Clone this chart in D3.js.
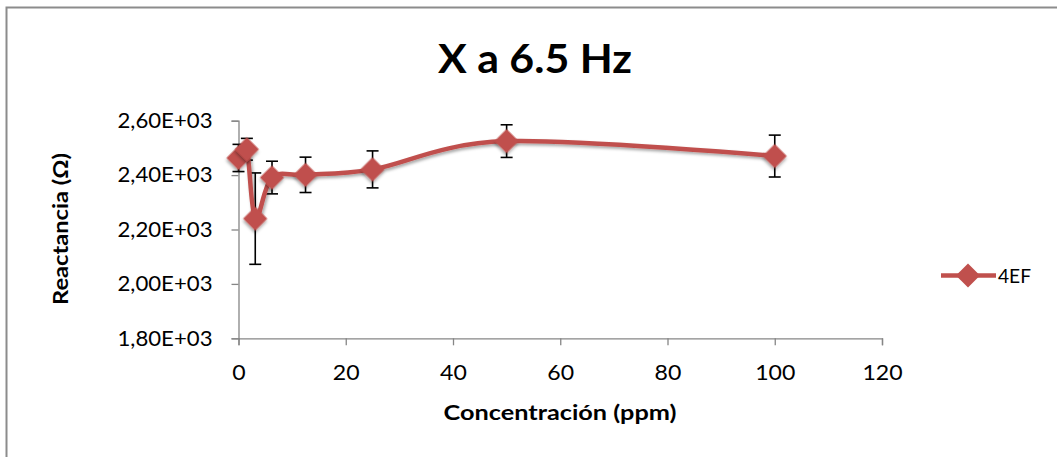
<!DOCTYPE html>
<html><head><meta charset="utf-8">
<script src="https://cdn.jsdelivr.net/npm/d3@7"></script>
<style>body{margin:0;background:#fff;} svg{display:block;}</style>
</head><body>
<svg id="c" width="1057" height="457"></svg>
<script>
const concentration = [0, 1.5625, 3.125, 6.25, 12.5, 25, 50, 100];
const reactance = [2463, 2495, 2240, 2391, 2401, 2421, 2525, 2470];
const errorBar = [50, 40, 168, 60, 65, 68, 60, 77];
const xTicks = [0, 20, 40, 60, 80, 100, 120];
const yTicks = [1800, 2000, 2200, 2400, 2600];
const seriesName = "4EF";

const svg = d3.select("#c");
const font = "Lato, 'Open Sans', sans-serif";
const red = "#C0504D";

// widen glyphs horizontally (reference text is horizontally stretched)
function stretchTo(sel, w) {
  sel.each(function() {
    d3.select(this).attr("textLength", w).attr("lengthAdjust", "spacingAndGlyphs");
  });
}
function stretch(sel, k) {
  sel.each(function() {
    const w = this.getComputedTextLength();
    d3.select(this).attr("textLength", w * k).attr("lengthAdjust", "spacingAndGlyphs");
  });
}

const defs = svg.append("defs");
const f = defs.append("filter").attr("id","sh").attr("x","-50%").attr("y","-50%").attr("width","200%").attr("height","200%");
f.append("feDropShadow").attr("dx",1.5).attr("dy",2).attr("stdDeviation",1.5).attr("flood-color","#000").attr("flood-opacity",0.35);

// outer frame
svg.append("rect").attr("x",6.5).attr("y",7.5).attr("width",1100).attr("height",500)
  .attr("fill","none").attr("stroke","#8c8c8c").attr("stroke-width",2);

const x = d3.scaleLinear().domain([0,120]).range([238.5, 882]);
const y = d3.scaleLinear().domain([1800,2600]).range([338.3, 120.7]);

// axes
const xa = svg.append("g").attr("transform",`translate(0,${y(1800)})`)
  .call(d3.axisBottom(x).tickValues(xTicks).tickSize(7).tickPadding(20).tickFormat(d3.format("d")));
const ya = svg.append("g").attr("transform",`translate(${x(0)},0)`)
  .call(d3.axisLeft(y).tickValues(yTicks).tickSize(7).tickPadding(19)
    .tickFormat(d => (d/1000).toFixed(2).replace(".", ",") + "E+03"));
[xa, ya].forEach(g => {
  g.select(".domain").attr("stroke","#868686").attr("stroke-width",1.3);
  g.selectAll(".tick line").attr("stroke","#868686").attr("stroke-width",1.3);
  g.selectAll(".tick text").attr("fill","#000").style("font-family",font).style("font-size","21px");
});
stretch(xa.selectAll(".tick text"), 1.1);
stretchTo(ya.selectAll(".tick text"), 95);

// error bars
const eb = svg.append("g").attr("stroke","#000").attr("stroke-width",1.6);
concentration.forEach((c,i) => {
  const cx = x(c), t = y(reactance[i]+errorBar[i]), b = y(reactance[i]-errorBar[i]);
  eb.append("line").attr("x1",cx).attr("x2",cx).attr("y1",t).attr("y2",b);
  eb.append("line").attr("x1",cx-6).attr("x2",cx+6).attr("y1",t).attr("y2",t);
  eb.append("line").attr("x1",cx-6).attr("x2",cx+6).attr("y1",b).attr("y2",b);
});

// line
const pts = concentration.map((c,i)=>[c, reactance[i]]);
const line = d3.line().x(d=>x(d[0])).y(d=>y(d[1])).curve(d3.curveCardinal.tension(0));
svg.append("path").attr("d",line(pts)).attr("fill","none").attr("stroke",red)
  .attr("stroke-width",4.5).attr("filter","url(#sh)");

// markers
const diamond = d3.symbol().type(d3.symbolSquare).size(290);
svg.append("g").selectAll("path").data(pts).join("path")
  .attr("d",diamond)
  .attr("transform",d=>`translate(${x(d[0])},${y(d[1])}) rotate(45)`)
  .attr("fill",red).attr("filter","url(#sh)");

// title
const title = svg.append("text").attr("x",535).attr("y",73).attr("text-anchor","middle")
  .style("font-family",font).style("font-weight","bold").style("font-size","41px").text("X a 6.5 Hz");
title.attr("textLength",194).attr("lengthAdjust","spacingAndGlyphs");
// axis titles
const xt = svg.append("text").attr("x",560).attr("y",420).attr("text-anchor","middle")
  .style("font-family",font).style("font-weight","bold").style("font-size","20px").text("Concentración (ppm)");
xt.attr("textLength",233).attr("lengthAdjust","spacingAndGlyphs");
const yt = svg.append("text").attr("transform","translate(68,229) rotate(-90)").attr("text-anchor","middle")
  .style("font-family",font).style("font-weight","bold").style("font-size","20px").text("Reactancia (Ω)");
yt.attr("textLength",152).attr("lengthAdjust","spacingAndGlyphs");

// legend
const ly = 275.5;
svg.append("line").attr("x1",941).attr("x2",996).attr("y1",ly).attr("y2",ly)
  .attr("stroke",red).attr("stroke-width",4.5);
svg.append("path").attr("d",diamond).attr("transform",`translate(968,${ly}) rotate(45)`).attr("fill",red);
const lt = svg.append("text").attr("x",998).attr("y",ly+7).style("font-family",font).style("font-size","20px").text(seriesName);
lt.attr("textLength",33).attr("lengthAdjust","spacingAndGlyphs");
</script>
</body></html>
